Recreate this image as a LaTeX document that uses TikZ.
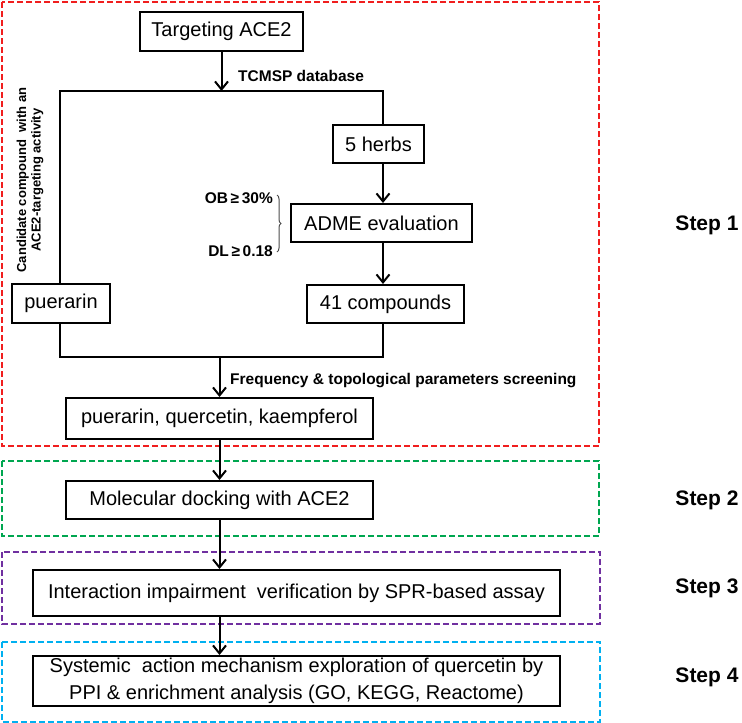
\documentclass[tikz,border=0pt]{standalone}
\usepackage{fontspec}
\setmainfont{Liberation Sans}
\usetikzlibrary{arrows.meta,decorations.pathreplacing}
\definecolor{dred}{RGB}{240,30,30}
\definecolor{dgreen}{RGB}{0,166,80}
\definecolor{dpurple}{RGB}{112,48,160}
\definecolor{dcyan}{RGB}{0,176,240}
\tikzset{
  box/.style={draw=black, line width=2pt, inner sep=0pt, align=center,
    font=\fontsize{20}{27}\selectfont},
  arr/.style={line width=2pt, -{Straight Barb[length=8pt,width=13pt,line width=2pt]}},
  conn/.style={line width=2pt},
  phase/.style={line width=2pt, dash pattern=on 6pt off 3pt},
  lbl/.style={inner sep=0pt, font=\fontsize{15.5}{18}\selectfont\bfseries},
  steplbl/.style={inner sep=0pt, font=\fontsize{21}{24}\selectfont\bfseries}
}
\begin{document}
\begin{tikzpicture}[x=1pt,y=-1pt]
\useasboundingbox (0,0) rectangle (742,723);
% dashed phase frames
\draw[phase, dred] (2,2) rectangle (599,446);
\draw[phase, dgreen] (2,461) rectangle (599,536);
\draw[phase, dpurple] (2,552) rectangle (600,624);
\draw[phase, dcyan] (2,642) rectangle (600,722);
% boxes
\node[box, minimum width=163pt, minimum height=39pt] (t) at (221.5,31.5) {Targeting ACE2};
\node[box, minimum width=91pt, minimum height=38pt] (herbs) at (378.5,144) {5 herbs};
\node[box, minimum width=181pt, minimum height=38pt] (adme) at (381.5,223) {ADME evaluation};
\node[box, minimum width=157pt, minimum height=38pt] (c41) at (385.5,304) {41 compounds};
\node[box, minimum width=98pt, minimum height=39pt] (pu) at (61,303.5) {puerarin};
\node[box, minimum width=307pt, minimum height=41pt] (pqk) at (219.5,418.5) {puerarin, quercetin, kaempferol};
\node[box, minimum width=307pt, minimum height=38pt] (dock) at (219.5,500) {Molecular docking with ACE2};
\node[box, minimum width=527pt, minimum height=46pt] (inter) at (296.5,593) {Interaction impairment\ \ verification by SPR-based assay};
\node[box, minimum width=527pt, minimum height=50pt] (sys) at (296.5,681) {Systemic\ \ action mechanism exploration of quercetin by\\PPI \& enrichment analysis (GO, KEGG, Reactome)};
% junction coordinates
\coordinate (split) at (221.5,91);
\coordinate (tl) at (60,91);
\coordinate (tr) at (383,91);
\coordinate (bl) at (60,357);
\coordinate (br) at (383,357);
\coordinate (join) at (219.5,357);
% connectors
\draw[arr] (t.south) -- (split);
\draw[conn] (pu.north -| tl) -- (tl) -- (tr) -- (herbs.north -| tr);
\draw[arr] (herbs.south -| tr) -- (adme.north -| tr);
\draw[arr] (adme.south -| tr) -- (c41.north -| tr);
\draw[conn] (pu.south -| bl) -- (bl) -- (br) -- (c41.south -| br);
\draw[arr] (join) -- (pqk.north);
\draw[arr] (pqk.south) -- (dock.north);
\draw[arr] (dock.south) -- (dock.south |- inter.north);
\draw[arr] (dock.south |- inter.south) -- (dock.south |- sys.north);
% labels
\node[lbl, anchor=west] (tcmsp) at (238,76) {TCMSP database};
\node[lbl, anchor=west] (freq) at (230,381) {Frequency \& topological parameters screening};
\node[lbl, anchor=east] (ob) at (273,198) {OB\,≥\,30\%};
\node[lbl, anchor=east] (dl) at (273,251) {DL\,≥\,0.18};
\draw[line width=1pt, black!70, decorate, decoration={brace, amplitude=4pt}] (277,195) -- (277,252);
\node[inner sep=0pt, rotate=90, align=center, font=\fontsize{13}{14.5}\selectfont\bfseries] (cand) at (30,180) {Candidate compound\ \ with an\\ACE2-targeting activity};
% step labels
\node[steplbl] (s1) at (707,225) {Step 1};
\node[steplbl] (s2) at (707,500) {Step 2};
\node[steplbl] (s3) at (707,588) {Step 3};
\node[steplbl] (s4) at (707,677) {Step 4};
\end{tikzpicture}
\end{document}
